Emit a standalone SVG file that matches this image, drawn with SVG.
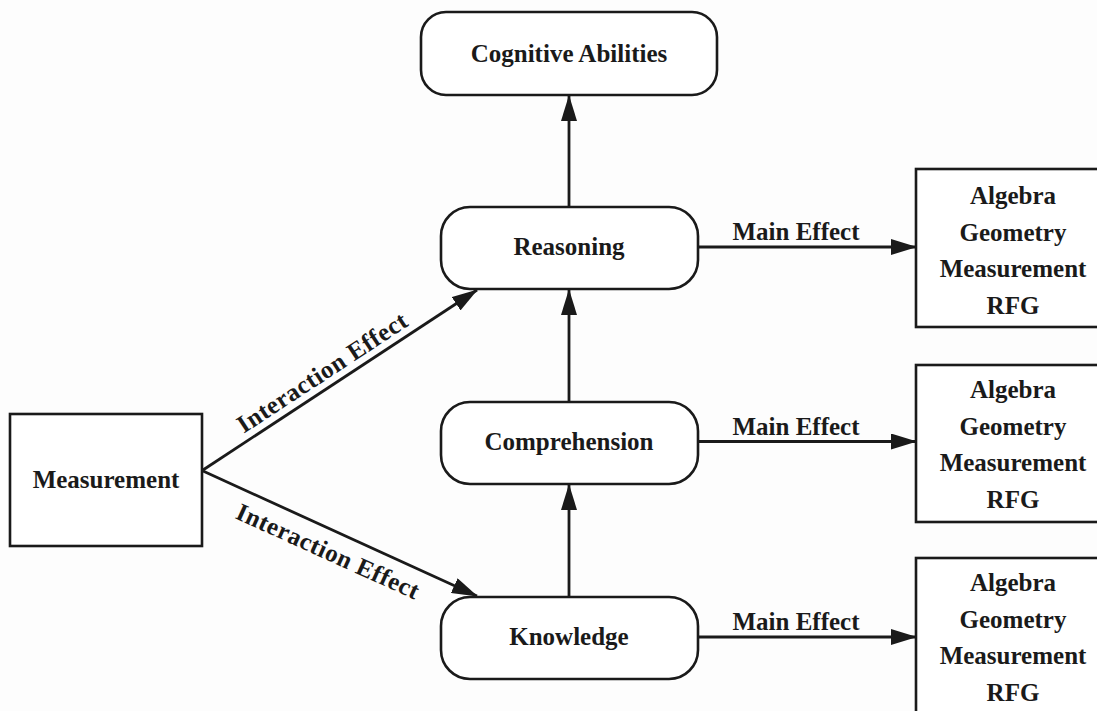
<svg xmlns="http://www.w3.org/2000/svg" width="1097" height="711" viewBox="0 0 1097 711">
<defs>
<style>
.box{fill:#fff;stroke:#1a1a1a;stroke-width:2.6}
.t{font-family:"Liberation Serif","Times New Roman",serif;font-weight:bold;font-size:25px;fill:#1a1a1a;text-anchor:middle}
.c{stroke:#1a1a1a;stroke-width:2.8;fill:none;marker-end:url(#ah)}
</style>
<marker id="ah" markerUnits="userSpaceOnUse" markerWidth="26" markerHeight="16" refX="25" refY="8" orient="auto" viewBox="0 0 26 16">
<path d="M0,0 L26,8 L0,16 z" fill="#1a1a1a"/>
</marker>
</defs>
<rect width="1097" height="711" fill="#fdfdfd"/>
<g id="connectors">
<line class="c" x1="569" y1="207" x2="569" y2="96"/>
<line class="c" x1="569" y1="402" x2="569" y2="290"/>
<line class="c" x1="569" y1="597" x2="569" y2="485"/>
<line class="c" x1="698" y1="247" x2="916" y2="247"/>
<line class="c" x1="698" y1="441.5" x2="916" y2="441.5"/>
<line class="c" x1="698" y1="637" x2="916" y2="637"/>
<line class="c" x1="203" y1="470" x2="477" y2="290"/>
<line class="c" x1="203" y1="471" x2="477" y2="596"/>
<text class="t" x="796" y="240">Main Effect</text>
<text class="t" x="796" y="435">Main Effect</text>
<text class="t" x="796" y="630">Main Effect</text>
<text class="t" transform="translate(326.6,379.5) rotate(-33.3)" textLength="198" lengthAdjust="spacing">Interaction Effect</text>
<text class="t" transform="translate(324.5,558.9) rotate(24.4)" textLength="198" lengthAdjust="spacing">Interaction Effect</text>
</g>
<g id="cognitive">
<rect class="box" x="421" y="12" width="296" height="83" rx="25"/>
<text class="t" x="569" y="62">Cognitive Abilities</text>
</g>
<g id="reasoning">
<rect class="box" x="441" y="207" width="257" height="82" rx="29"/>
<text class="t" x="569" y="255">Reasoning</text>
</g>
<g id="comprehension">
<rect class="box" x="441" y="402" width="257" height="82" rx="29"/>
<text class="t" x="569" y="450">Comprehension</text>
</g>
<g id="knowledge">
<rect class="box" x="441" y="597" width="257" height="82" rx="29"/>
<text class="t" x="569" y="645">Knowledge</text>
</g>
<g id="measurement">
<rect class="box" x="10" y="414" width="192" height="132"/>
<text class="t" x="106" y="488">Measurement</text>
</g>
<g id="outcome1">
<rect class="box" x="916" y="169" width="200" height="158"/>
<text class="t" x="1013" y="204">Algebra</text>
<text class="t" x="1013" y="240.5">Geometry</text>
<text class="t" x="1013" y="277">Measurement</text>
<text class="t" x="1013" y="313.5">RFG</text>
</g>
<g id="outcome2">
<rect class="box" x="916" y="365" width="200" height="157"/>
<text class="t" x="1013" y="398">Algebra</text>
<text class="t" x="1013" y="434.5">Geometry</text>
<text class="t" x="1013" y="471">Measurement</text>
<text class="t" x="1013" y="507.5">RFG</text>
</g>
<g id="outcome3">
<rect class="box" x="916" y="558" width="200" height="170"/>
<text class="t" x="1013" y="591">Algebra</text>
<text class="t" x="1013" y="627.5">Geometry</text>
<text class="t" x="1013" y="664">Measurement</text>
<text class="t" x="1013" y="700.5">RFG</text>
</g>
</svg>
